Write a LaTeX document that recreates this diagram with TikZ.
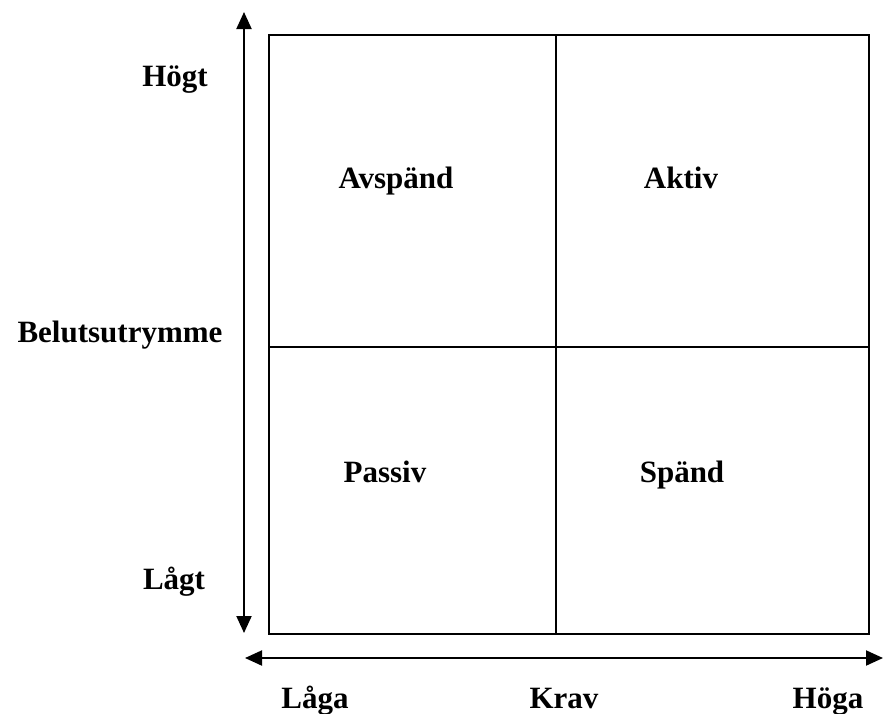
\documentclass[tikz,border=0pt]{standalone}
\usepackage{fontspec}
\setmainfont{Liberation Serif}
\usetikzlibrary{arrows.meta}
\begin{document}
\begin{tikzpicture}[x=1pt,y=-1pt,
  lbl/.style={font=\fontsize{31}{37}\selectfont\bfseries, anchor=base, inner sep=0pt},
  axis/.style={line width=2pt, {Triangle[length=17pt,width=15pt]}-{Triangle[length=17pt,width=15pt]}},
  grid/.style={line width=1.5pt}]
\useasboundingbox (0,0) rectangle (883,713);
\coordinate (tl) at (269,35);
\coordinate (br) at (869,634);
\coordinate (tm) at (556,35);
\coordinate (bm) at (556,634);
\coordinate (lm) at (269,347);
\coordinate (rm) at (869,347);
\draw[grid] (tl) rectangle (br);
\draw[grid] (tm) -- (bm);
\draw[grid] (lm) -- (rm);
\coordinate (vtop) at (244,12);
\coordinate (vbot) at (244,633);
\coordinate (hl) at (245,658);
\coordinate (hr) at (883,658);
\draw[axis] (vtop) -- (vbot);
\draw[axis] (hl) -- (hr);
\node[lbl] (hogt) at (175,86) {Högt};
\node[lbl] (belut) at (120,342) {Belutsutrymme};
\node[lbl] (lagt) at (174,589) {Lågt};
\node[lbl] (avsp) at (396,188) {Avspänd};
\node[lbl] (aktiv) at (681,188) {Aktiv};
\node[lbl] (passiv) at (385,482) {Passiv};
\node[lbl] (spand) at (682,482) {Spänd};
\node[lbl] (laga) at (315,708) {Låga};
\node[lbl] (krav) at (564,708) {Krav};
\node[lbl] (hoga) at (828,708) {Höga};
\end{tikzpicture}
\end{document}
